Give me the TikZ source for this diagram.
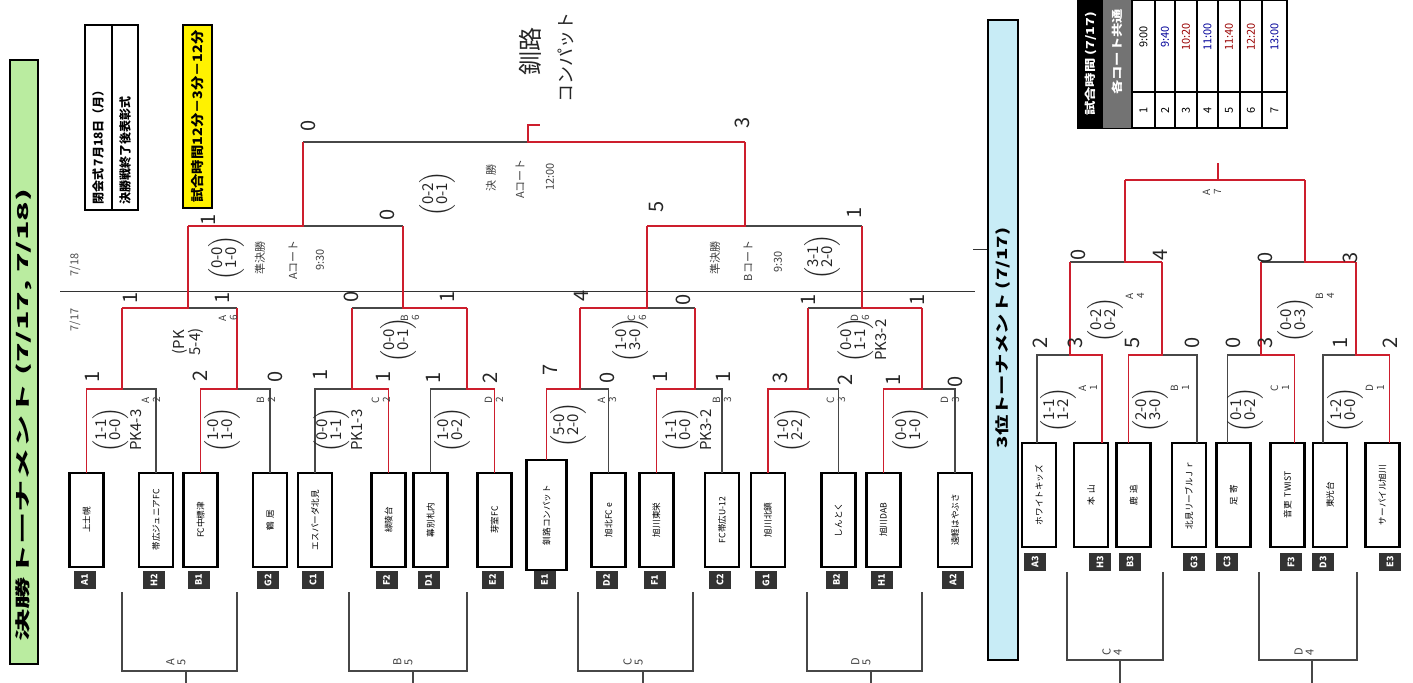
\documentclass[tikz,border=0pt]{standalone}
\usepackage{fontspec}
\setmainfont{Noto Sans CJK JP}
\usetikzlibrary{calc}
\newcommand\PR[2]{$\left(\begin{tabular}{@{}c@{}}#1\\[-1pt]#2\end{tabular}\right)$}
\definecolor{gbarc}{RGB}{186,236,160}
\definecolor{bbarc}{RGB}{200,236,246}
\definecolor{redl}{RGB}{205,30,45}
\begin{document}
\begin{tikzpicture}[x=0.5pt,y=-0.5pt,
  every node/.style={inner sep=0pt,outer sep=0pt},
  ln/.style={draw=black!72,line width=0.75pt},
  win/.style={draw=redl,line width=0.95pt},
  team/.style={draw=black,line width=1.3pt,fill=white,rotate=90,font=\fontsize{4.3}{5}\selectfont,minimum width=47pt,minimum height=17pt},
  badge/.style={fill=black!80,text=white,rotate=90,font=\fontsize{4.5}{5}\bfseries,minimum width=9pt,minimum height=11pt},
  sc/.style={rotate=90,font=\fontsize{10}{10}\selectfont,text=black!85},
  hw/.style={rotate=90,font=\fontsize{7.5}{8}\selectfont,text=black!85,align=center},
  pr/.style={rotate=90,font=\fontsize{5.5}{6}\selectfont,align=center,text=black!75},
  ml/.style={rotate=90,font=\fontsize{5}{5.5}\selectfont,align=center,text=black!75}
]
\useasboundingbox (0,0) rectangle (1413,683);
\fill[white] (0,0) rectangle (1413,683);
% ---- left title bar
\node[draw=black,line width=1pt,fill=gbarc,minimum width=302pt,minimum height=14pt,rotate=90] (gbar) at (24,362) {};
\node[rotate=90,font=\fontsize{7.5}{8}\bfseries] (gtxt) at (24,415) {\scalebox{2.15}[1]{決勝トーナメント (7/17, 7/18)}};
% ---- info box
\draw[line width=1.2pt] (85,25) rectangle (138,210);
\draw[line width=1pt] (112,25) -- (112,210);
\node[rotate=90,anchor=west,font=\fontsize{6}{6}\bfseries] (info1) at (98,205) {閉会式 7月18日（月）};
\node[rotate=90,anchor=west,font=\fontsize{6}{6}\bfseries] (info2) at (125,205) {決勝戦終了後表彰式};
\node[draw=black,line width=1.2pt,fill=yellow,rotate=90,minimum width=91.5pt,minimum height=14.5pt,font=\fontsize{6.5}{7}\bfseries] (ybox) at (197.5,116.5) {\scalebox{1.1}[1]{試合時間12分－3分－12分}};
% ---- date line
\coordinate (dl1) at (60,292); \coordinate (dl2) at (975,292);
\draw[black!80,line width=0.5pt] (dl1) -- (dl2);
\coordinate (tk1) at (973,250); \coordinate (tk2) at (990,250);
\draw[black!80,line width=0.5pt] (tk1) -- (tk2);
\node[rotate=90,font=\fontsize{5.5}{5.5}\selectfont,text=black!70] (d18) at (75,265) {7/18};
\node[rotate=90,font=\fontsize{5.5}{5.5}\selectfont,text=black!70] (d17) at (75,320) {7/17};
% ---- teams (left)
\foreach \n/\x/\nm/\bd in {1/86.5/上士幌/A1,2/156/帯広ジュニアFC/H2,3/200.5/FC中標津/B1,4/270/鶴\ \ 居/G2,5/315/エスパーダ北見/C1,6/388.5/緑陵台/F2,7/430.5/幕別札内/D1,8/494.5/芽室FC/E2,10/608.5/旭北FC e/D2,11/656.5/旭川東栄/F1,12/722/FC帯広U-12/C2,13/768/旭川北鎮/G1,14/838.5/しんとく/B2,15/883.5/旭川DAB/H1,16/955/遠軽はやぶさ/A2}{
  \node[team] (t\n) at (\x,520) {\nm};
  \node[badge] (b\n) at (\x-2,580) {\bd};
}
\node[team,minimum width=55pt,minimum height=20pt] (t9) at (546.5,515) {釧路コンパット};
\node[badge] (b9) at (544.5,580) {E1};
% ---- bracket coordinates (left)
\coordinate (s1) at (122,389); \coordinate (u1) at (122,308);
\coordinate (s2) at (237,389); \coordinate (u2) at (237,308);
\coordinate (s3) at (352,389); \coordinate (u3) at (352,308);
\coordinate (s4) at (467,389); \coordinate (u4) at (467,308);
\coordinate (s5) at (580,389); \coordinate (u5) at (580,308);
\coordinate (s6) at (695,389); \coordinate (u6) at (695,308);
\coordinate (s7) at (808,389); \coordinate (u7) at (808,308);
\coordinate (s8) at (922,389); \coordinate (u8) at (922,308);
\coordinate (sA) at (188,308); \coordinate (uA) at (188,226);
\coordinate (sB) at (403,308); \coordinate (uB) at (403,226);
\coordinate (sC) at (647,308); \coordinate (uC) at (647,226);
\coordinate (sD) at (862,308); \coordinate (uD) at (862,226);
\coordinate (sSA) at (303,226); \coordinate (uSA) at (303,142);
\coordinate (sSB) at (745,226); \coordinate (uSB) at (745,142);
\coordinate (sF) at (528,142); \coordinate (uF) at (528,125); \coordinate (hF) at (540,125);
% grey lines
\foreach \m/\a/\b in {1/1/2,2/3/4,3/5/6,4/7/8,5/9/10,6/11/12,7/13/14,8/15/16}{
  \draw[ln] (t\a.east) |- (s\m) -| (t\b.east);
  \draw[ln] (s\m) -- (u\m);
}
\draw[ln] (u1) |- (sA) -| (u2); \draw[ln] (sA) -- (uA);
\draw[ln] (u3) |- (sB) -| (u4); \draw[ln] (sB) -- (uB);
\draw[ln] (u5) |- (sC) -| (u6); \draw[ln] (sC) -- (uC);
\draw[ln] (u7) |- (sD) -| (u8); \draw[ln] (sD) -- (uD);
\draw[ln] (uA) |- (sSA) -| (uB); \draw[ln] (sSA) -- (uSA);
\draw[ln] (uC) |- (sSB) -| (uD); \draw[ln] (sSB) -- (uSB);
\draw[ln] (uSA) |- (sF) -| (uSB); \draw[ln] (sF) -- (uF);
% red winner lines
\draw[win] (t1.east) |- (s1) -- (u1);
\draw[win] (t3.east) |- (s2) -- (u2);
\draw[win] (t6.east) |- (s3) -- (u3);
\draw[win] (t8.east) |- (s4) -- (u4);
\draw[win] (t9.east) |- (s5) -- (u5);
\draw[win] (t11.east) |- (s6) -- (u6);
\draw[win] (t13.east) |- (s7) -- (u7);
\draw[win] (t15.east) |- (s8) -- (u8);
\draw[win] (u1) |- (sA) -- (uA);
\draw[win] (u4) |- (sB) -- (uB);
\draw[win] (u5) |- (sC) -- (uC);
\draw[win] (u8) |- (sD) -- (uD);
\draw[win] (uA) |- (sSA) -- (uSA);
\draw[win] (uC) |- (sSB) -- (uSB);
\draw[win] (uSB) |- (sF) -- (uF) -- (hF);
% ---- match texts (left)
\foreach \n/\x/\y/\t in {m1/117/430/{\PR{1-1}{0-0}\\PK4-3},m2/222/430/{\PR{1-0}{1-0}},m3/338/430/{\PR{0-0}{1-1}\\PK1-3},m4/452/430/{\PR{1-0}{0-2}},m5/568/425/{\PR{5-0}{2-0}},m6/687/430/{\PR{1-1}{0-0}\\PK3-2},m7/792/430/{\PR{1-0}{2-2}},m8/910/430/{\PR{0-0}{1-0}},ra/188/342/{(PK\\5-4)},rb/398/340/{\PR{0-0}{0-1}},rc/630/340/{\PR{1-0}{3-0}},rd/862/340/{\PR{0-0}{1-1}\\PK3-2},sa/226/258/{\PR{0-0}{1-0}},sb/822/257/{\PR{3-1}{2-0}},fi/437/194/{\PR{0-2}{0-1}}}{
  \node[hw] (h\n) at (\x,\y) {\t};
}
\foreach \n/\x/\y/\t in {l1/151/400/{A\\2},l2/266/400/{B\\2},l3/381/400/{C\\2},l4/494/400/{D\\2},l5/607/400/{A\\3},l6/722/400/{B\\3},l7/836/400/{C\\3},l8/950/400/{D\\3},la/228/318/{A\\6},lb/410/318/{B\\6},lc/637/318/{C\\6},ld/860/318/{D\\6}}{
  \node[ml] (\n) at (\x,\y) {\t};
}
\node[pr] (pa1) at (260,258) {準決勝};
\node[pr] (pa2) at (293,260) {Aコート};
\node[pr] (pa3) at (320,260) {9:30};
\node[pr] (pb1) at (715,258) {準決勝};
\node[pr] (pb2) at (748,261) {Bコート};
\node[pr] (pb3) at (778,262) {9:30};
\node[pr] (pf1) at (491,178) {決\ \ 勝};
\node[pr] (pf2) at (520,179) {Aコート};
\node[pr] (pf3) at (550,177) {12:00};
\node[hw,font=\fontsize{12}{12}\selectfont] (champ1) at (530,52) {釧路};
\node[hw,font=\fontsize{9}{9}\selectfont] (champ2) at (566,58) {コンパット};
% ---- scores (left)
\foreach \n/\x/\y/\t in {f1/308/126/0,f2/742/123/3,sa1/208/220/1,sa2/387/215/0,sb1/656/207/5,sb2/854/213/1,ra1/130/298/1,ra2/222/298/1,rb1/351/297/0,rb2/447/297/1,rc1/581/296/4,rc2/683/300/0,rd1/808/300/1,rd2/917/300/1,q1/92/377/1,q3/200/376/2,q4/275/377/0,q5/320/375/1,q6/383/377/1,q7/433/378/1,q8/490/378/2,q9/550/370/7,q10/607/378/0,q11/660/377/1,q12/723/377/1,q13/780/378/3,q14/845/380/2,q15/893/380/1,q16/955/382/0}{
  \node[sc] (c\n) at (\x,\y) {\t};
}
% ---- bottom group brackets (left)
\foreach \g/\a/\b/\s in {A/122/237/186,B/349/467/413,C/578/693/643,D/807/922/871}{
  \coordinate (g\g1) at (\a,592); \coordinate (g\g2) at (\b,592);
  \coordinate (g\g3) at (\s,671); \coordinate (g\g4) at (\s,683);
  \draw[ln] (g\g1) |- (g\g3) -| (g\g2);
  \draw[ln] (g\g3) -- (g\g4);
  \node[ml,font=\fontsize{5.5}{5.5}\selectfont] (gl\g) at (\s-10,662) {\g\\5};
}
% ---- blue bar
\node[draw=black,line width=1pt,fill=bbarc,minimum width=320pt,minimum height=15pt,rotate=90] (bbar) at (1003,340) {};
\node[rotate=90,font=\fontsize{7}{8}\bfseries] (btxt) at (1003,338) {\scalebox{1.45}[1]{3位トーナメント (7/17)}};
% ---- timetable
\draw[line width=1.2pt] (1078,0) rectangle (1287,128);
\fill[black] (1078,0) rectangle (1103,128);
\fill[black!55] (1103,0) rectangle (1132,128);
\node[rotate=90,text=white,font=\fontsize{5.5}{6}\bfseries] (tt1) at (1090.5,64) {\scalebox{1.3}[1]{試合時間 (7/17)}};
\node[rotate=90,text=white,font=\fontsize{5.5}{6}\bfseries] (tt2) at (1117.5,52) {\scalebox{1.3}[1]{各コート共通}};
\foreach \xa in {1155,1175,1197,1218,1240,1262}{\draw[line width=0.7pt] (\xa,0) -- (\xa,128);}
\draw[line width=0.7pt] (1132,0) -- (1132,128);
\draw[line width=0.7pt] (1132,92) -- (1287,92);
\foreach \k/\x/\tm/\col in {1/1143.5/9:00/black,2/1165/9:40/blue!60!black,3/1186/10:20/red!60!black,4/1207.5/11:00/blue!60!black,5/1229/11:40/red!60!black,6/1251/12:20/red!60!black,7/1274.5/13:00/blue!60!black}{
  \node[rotate=90,font=\fontsize{5.5}{5.5}\selectfont,text=\col] (tm\k) at (\x,37) {\tm};
  \node[rotate=90,font=\fontsize{5.5}{5.5}\selectfont] (tn\k) at (\x,110) {\k};
}
% ---- right bracket teams
\foreach \n/\x/\nm in {1/1039/ホワイトキッズ,2/1091/本\ \ 山,3/1133.5/鹿\ \ 追,4/1189/北見リーブルＪｒ,5/1233.5/足\ \ 寄,6/1287.5/音更\ \ TWIST,7/1330/東光台,8/1382.5/サーパイル旭川}{
  \node[team,minimum width=52pt] (r\n) at (\x,495) {\nm};
}
\foreach \n/\x/\bd in {1/1035/A3,2/1100/H3,3/1130/B3,4/1194/G3,5/1227/C3,6/1291/F3,7/1323/D3,8/1390/E3}{
  \node[badge] (rb\n) at (\x,562) {\bd};
}
\coordinate (ra1) at ($(r1.east)+(-2,0)$);
\coordinate (ra2) at ($(r2.east)+(11,0)$);
\coordinate (ra3) at ($(r3.east)+(-5,0)$);
\coordinate (ra4) at ($(r4.east)+(8,0)$);
\coordinate (ra5) at ($(r5.east)+(-6,0)$);
\coordinate (ra6) at ($(r6.east)+(7,0)$);
\coordinate (ra7) at ($(r7.east)+(-7,0)$);
\coordinate (ra8) at ($(r8.east)+(7,0)$);
\coordinate (p1) at (1070,355); \coordinate (q1) at (1070,262);
\coordinate (p2) at (1162,355); \coordinate (q2) at (1162,262);
\coordinate (p3) at (1261,355); \coordinate (q3) at (1261,262);
\coordinate (p4) at (1356,355); \coordinate (q4) at (1356,262);
\coordinate (pA) at (1125,262); \coordinate (qA) at (1125,180);
\coordinate (pB) at (1305,262); \coordinate (qB) at (1305,180);
\coordinate (pF) at (1218,180); \coordinate (qF) at (1218,163);
\draw[ln] (ra1) |- (p1) -| (ra2); \draw[ln] (p1) -- (q1);
\draw[ln] (ra3) |- (p2) -| (ra4); \draw[ln] (p2) -- (q2);
\draw[ln] (ra5) |- (p3) -| (ra6); \draw[ln] (p3) -- (q3);
\draw[ln] (ra7) |- (p4) -| (ra8); \draw[ln] (p4) -- (q4);
\draw[ln] (q1) |- (pA) -| (q2); \draw[ln] (pA) -- (qA);
\draw[ln] (q3) |- (pB) -| (q4); \draw[ln] (pB) -- (qB);
\draw[ln] (qA) |- (pF) -| (qB); \draw[ln] (pF) -- (qF);
\draw[win] (ra2) |- (p1) -- (q1);
\draw[win] (ra3) |- (p2) -- (q2);
\draw[win] (ra6) |- (p3) -- (q3);
\draw[win] (ra8) |- (p4) -- (q4);
\draw[win] (q2) |- (pA) -- (qA);
\draw[win] (q4) |- (pB) -- (qB);
\draw[win] (qA) |- (pF) -| (qB); \draw[win] (pF) -- (qF);
\foreach \n/\x/\y/\t in {x1/1058/410/{\PR{1-1}{1-2}},x2/1150/410/{\PR{2-0}{3-0}},x3/1245/410/{\PR{0-1}{0-2}},x4/1345/410/{\PR{1-2}{0-0}},x5/1105/320/{\PR{0-2}{0-2}},x6/1295/320/{\PR{0-0}{0-3}}}{
  \node[hw] (h\n) at (\x,\y) {\t};
}
\foreach \n/\x/\y/\t in {y1/1088/388/{A\\1},y2/1180/388/{B\\1},y3/1280/388/{C\\1},y4/1375/388/{D\\1},y5/1135/296/{A\\4},y6/1325/296/{B\\4},y7/1212/192/{A\\7}}{
  \node[ml] (\n) at (\x,\y) {\t};
}
\foreach \n/\x/\y/\t in {z1/1040/343/2,z2/1075/343/3,z3/1132/343/5,z4/1192/343/0,z5/1233/343/0,z6/1265/343/3,z7/1340/343/1,z8/1390/343/2,z9/1078/255/0,z10/1160/255/4,z11/1265/258/0,z12/1350/258/3}{
  \node[sc] (c\n) at (\x,\y) {\t};
}
\foreach \g/\a/\b/\s in {C/1067/1163/1120,D/1259/1357/1312}{
  \coordinate (g\g5) at (\a,572); \coordinate (g\g6) at (\b,572);
  \coordinate (g\g7) at (\s,660); \coordinate (g\g8) at (\s,683);
  \draw[ln] (g\g5) |- (g\g7) -| (g\g6);
  \draw[ln] (g\g7) -- (g\g8);
  \node[ml,font=\fontsize{5.5}{5.5}\selectfont] (gr\g) at (\s-8,652) {\g\\4};
}
\end{tikzpicture}
\end{document}
